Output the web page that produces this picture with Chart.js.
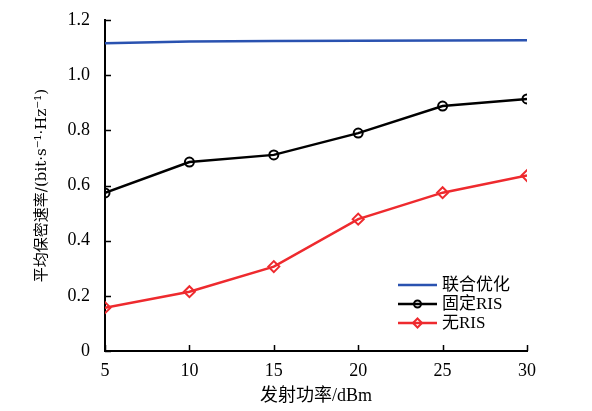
<!DOCTYPE html>
<html>
<head>
<meta charset="utf-8">
<script src="https://cdn.jsdelivr.net/npm/chart.js@4/dist/chart.umd.min.js"></script>
<style>
  html, body { margin: 0; padding: 0; background: #fff; }
  #chart { display: block; }
</style>
</head>
<body>
<canvas id="chart" width="592" height="411"></canvas>
<script>
// 发射功率 (dBm)
var powerDbm = [5, 10, 15, 20, 25, 30];
// 平均保密速率
var jointOpt = [1.116, 1.122, 1.124, 1.125, 1.126, 1.127];
var fixedRis = [0.573, 0.685, 0.711, 0.790, 0.888, 0.914];
var noRis = [0.157, 0.215, 0.306, 0.478, 0.574, 0.636];
var seriesNames = ['联合优化', '固定RIS', '无RIS'];
var yTicks = [0, 0.2, 0.4, 0.6, 0.8, 1.0, 1.2];

var latin = '"Liberation Serif", "Noto Sans CJK SC", serif';

function pts(arr) {
    return arr.map(function (v, i) { return { x: powerDbm[i], y: v }; });
}

// 向内的刻度线
var innerTicks = {
    id: 'innerTicks',
    afterDraw: function (chart) {
        var ctx = chart.ctx, xs = chart.scales.x, ys = chart.scales.y;
        var a = chart.chartArea;
        ctx.save();
        ctx.strokeStyle = '#000';
        ctx.lineWidth = 1.5;
        ctx.beginPath();
        ys.ticks.forEach(function (t) {
            var py = Math.round(ys.getPixelForValue(t.value)) + 0.5;
            ctx.moveTo(a.left, py);
            ctx.lineTo(a.left + 6, py);
        });
        xs.ticks.forEach(function (t) {
            var px = Math.round(xs.getPixelForValue(t.value)) + 0.5;
            ctx.moveTo(px, a.bottom);
            ctx.lineTo(px, a.bottom - 6);
        });
        ctx.stroke();
        ctx.restore();
    }
};

// 图例 (右下角, 线段 + 标记)
var boxLegend = {
    id: 'boxLegend',
    afterDraw: function (chart) {
        var ctx = chart.ctx, a = chart.chartArea;
        var x0 = a.right - 129, x1 = a.right - 90, y0 = a.bottom - 66, dy = 19;
        ctx.save();
        chart.data.datasets.forEach(function (ds, i) {
            var y = y0 + i * dy;
            ctx.strokeStyle = ds.borderColor;
            ctx.lineWidth = 2.5;
            ctx.beginPath();
            ctx.moveTo(x0, y);
            ctx.lineTo(x1, y);
            ctx.stroke();
            if (ds.pointRadius > 0) {
                ctx.fillStyle = 'rgba(0,0,0,0)';
                ctx.lineWidth = ds.pointBorderWidth;
                Chart.helpers.drawPoint(ctx, {
                    pointStyle: ds.pointStyle,
                    radius: ds.pointRadius - 1,
                    borderWidth: ds.pointBorderWidth,
                    rotation: 0
                }, (x0 + x1) / 2, y);
            }
            ctx.fillStyle = '#000';
            ctx.font = '17px ' + latin;
            ctx.textBaseline = 'middle';
            ctx.textAlign = 'left';
            ctx.fillText(ds.label, x1 + 5, y + 1);
        });
        ctx.restore();
    }
};

new Chart(document.getElementById('chart'), {
    type: 'line',
    data: {
        datasets: [
            {
                label: seriesNames[0],
                data: pts(jointOpt),
                borderColor: '#2a52b0',
                backgroundColor: '#2a52b0',
                borderWidth: 2.5,
                pointRadius: 0,
                pointBorderWidth: 0
            },
            {
                label: seriesNames[1],
                data: pts(fixedRis),
                borderColor: '#000000',
                backgroundColor: 'rgba(0,0,0,0)',
                borderWidth: 2.5,
                pointStyle: 'circle',
                pointRadius: 4.5,
                pointBorderWidth: 2,
                pointBorderColor: '#000000',
                pointBackgroundColor: 'rgba(0,0,0,0)'
            },
            {
                label: seriesNames[2],
                data: pts(noRis),
                borderColor: '#ee2a2e',
                backgroundColor: 'rgba(0,0,0,0)',
                borderWidth: 2.5,
                pointStyle: 'rectRot',
                pointRadius: 5.5,
                pointBorderWidth: 2,
                pointBorderColor: '#ee2a2e',
                pointBackgroundColor: 'rgba(0,0,0,0)'
            }
        ]
    },
    options: {
        responsive: false,
        animation: false,
        layout: { padding: { top: 20, right: 65, left: 0, bottom: 0 } },
        plugins: {
            legend: { display: false },
            tooltip: { enabled: false }
        },
        scales: {
            x: {
                type: 'linear',
                min: 5,
                max: 30,
                afterFit: function (s) {
                    s.height = 60;
                    s.paddingLeft = 0;
                    s.paddingRight = 0;
                },
                afterBuildTicks: function (s) {
                    s.ticks = powerDbm.map(function (v) { return { value: v }; });
                },
                grid: { display: true, drawOnChartArea: false, drawTicks: false },
                border: { display: true, color: '#000', width: 2 },
                ticks: {
                    color: '#000',
                    padding: 9,
                    font: { family: latin, size: 18 }
                },
                title: {
                    display: true,
                    text: '发射功率/dBm',
                    color: '#000',
                    padding: { top: 0, bottom: 4 },
                    font: { family: latin, size: 18 }
                }
            },
            y: {
                min: 0,
                max: 1.2,
                afterFit: function (s) {
                    s.width = 105;
                    s.paddingTop = 0;
                    s.paddingBottom = 0;
                },
                afterBuildTicks: function (s) {
                    s.ticks = yTicks.map(function (v) { return { value: v }; });
                },
                grid: { display: true, drawOnChartArea: false, drawTicks: false },
                border: { display: true, color: '#000', width: 2 },
                ticks: {
                    color: '#000',
                    padding: 15,
                    font: { family: latin, size: 18 },
                    callback: function (v) { return v === 0 ? '0' : v.toFixed(1); }
                },
                title: {
                    display: true,
                    text: '平均保密速率/(bit·s⁻¹·Hz⁻¹)',
                    color: '#000',
                    padding: { top: 33, bottom: 0 },
                    font: { family: '"DejaVu Serif", "Noto Sans CJK SC", serif', size: 15 }
                }
            }
        }
    },
    plugins: [innerTicks, boxLegend]
});
</script>
</body>
</html>
